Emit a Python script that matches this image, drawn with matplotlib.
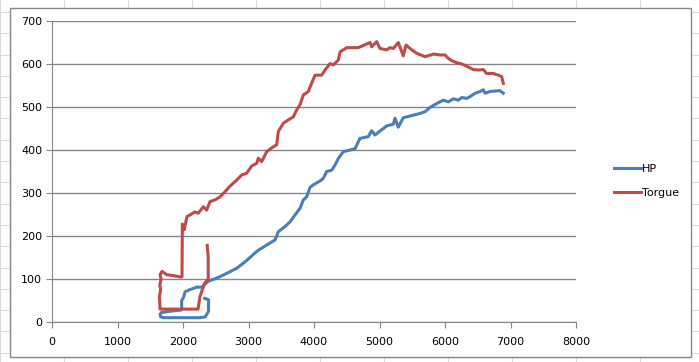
import matplotlib
matplotlib.use("Agg")
import matplotlib.pyplot as plt
from matplotlib.lines import Line2D
from matplotlib.patches import Rectangle

# HP curve (rpm, hp)
hp_rpm = [2330, 2390, 2390, 2340, 2250, 1700, 1660, 1650, 1670, 1800, 1980, 1980,
          2010, 2030, 2100, 2210, 2285, 2387, 2514, 2667, 2820, 2947, 3023, 3080,
          3150, 3278, 3405, 3455, 3557, 3634, 3710, 3786, 3837, 3888, 3939, 3990,
          4092, 4142, 4193, 4270, 4321, 4371, 4447, 4550, 4626, 4702, 4829, 4880,
          4931, 5033, 5109, 5211, 5237, 5287, 5363, 5516, 5618, 5695, 5771, 5873,
          5975, 6051, 6127, 6204, 6255, 6331, 6382, 6458, 6534, 6585, 6611, 6687,
          6840, 6890]
hp = [55, 52, 25, 12, 10, 10, 12, 18, 22, 25, 28, 50,
      58, 70, 75, 81, 81, 95, 102, 113, 125, 140, 150, 158,
      167, 179, 191, 210, 222, 233, 249, 264, 284, 291, 313, 319,
      328, 334, 350, 353, 365, 380, 396, 400, 403, 427, 431, 445,
      435, 447, 456, 460, 474, 453, 475, 481, 485, 489, 499, 508,
      516, 512, 519, 516, 522, 520, 524, 532, 536, 540, 532, 536,
      538, 532]

# Torque curve (rpm, torque)
tq_rpm = [2370, 2385, 2385, 2330, 2260, 2230, 1650, 1640, 1660, 1645, 1665, 1650,
          1680, 1750, 1850, 1950, 1985, 1990, 2020, 2060, 2107, 2183, 2234, 2310,
          2361, 2412, 2489, 2565, 2641, 2718, 2820, 2896, 2972, 3049, 3125, 3150,
          3201, 3278, 3354, 3430, 3455, 3531, 3608, 3684, 3735, 3786, 3837, 3913,
          3964, 4015, 4117, 4168, 4244, 4295, 4371, 4397, 4499, 4677, 4855, 4880,
          4957, 5008, 5109, 5160, 5211, 5287, 5363, 5405, 5491, 5567, 5695, 5822,
          5924, 6000, 6051, 6102, 6178, 6255, 6331, 6433, 6509, 6585, 6636, 6738,
          6814, 6865, 6890]
tq = [178, 150, 100, 90, 60, 30, 30, 60, 75, 85, 100, 110,
      118, 110, 108, 105, 105, 228, 215, 245, 249, 256, 253, 268,
      260, 280, 284, 291, 303, 316, 330, 342, 346, 363, 369, 381,
      373, 396, 405, 412, 443, 462, 470, 477, 493, 505, 528, 536,
      555, 574, 574, 586, 601, 598, 609, 628, 638, 638, 650, 640,
      652, 636, 633, 638, 636, 650, 619, 644, 633, 625, 617, 623,
      621, 621, 613, 608, 603, 600, 595, 587, 586, 587, 578, 578,
      574, 571, 555]

x_ticks = [0, 1000, 2000, 3000, 4000, 5000, 6000, 7000, 8000]
y_ticks = [0, 100, 200, 300, 400, 500, 600, 700]

W, H = 699, 362
fig = plt.figure(figsize=(W / 100, H / 100), dpi=100)
fig.patch.set_facecolor("white")

# faint spreadsheet cells behind the chart
for x in range(0, W, 64):
    fig.add_artist(Line2D([x / W, x / W], [0, 1], color="#dadcdd", lw=0.8, zorder=-3))
y = 161.0
while y > 0:
    fig.add_artist(Line2D([0, 1], [1 - y / H, 1 - y / H], color="#dadcdd", lw=0.8, zorder=-3))
    y -= 21.3
y = 182.3
while y < H:
    fig.add_artist(Line2D([0, 1], [1 - y / H, 1 - y / H], color="#dadcdd", lw=0.8, zorder=-3))
    y += 21.3

# chart area
fig.add_artist(Rectangle((10 / W, 1 - 357 / H), 681 / W, 349 / H, transform=fig.transFigure,
                         facecolor="white", edgecolor="#868686", lw=1, zorder=-2))

ax = fig.add_axes([52 / W, 40 / H, 524 / W, 301 / H])
ax.set_facecolor("white")
ax.plot(hp_rpm, hp, color="#4A7EBB", lw=2.2, label="HP", solid_joinstyle="round")
ax.plot(tq_rpm, tq, color="#BE4B48", lw=2.2, label="Torgue", solid_joinstyle="round")

ax.set_xlim(0, 8000)
ax.set_ylim(0, 700)
ax.set_xticks(x_ticks)
ax.set_yticks(y_ticks)
ax.grid(axis="y", color="#868686", lw=1)
ax.set_axisbelow(True)
for s in ["top", "right"]:
    ax.spines[s].set_visible(False)
for s in ["left", "bottom"]:
    ax.spines[s].set_color("#868686")
ax.tick_params(direction="out", length=4, color="#868686", labelsize=8, labelcolor="black")
ax.tick_params(axis="x", pad=7)
ax.tick_params(axis="y", pad=3)

fig.legend(loc="center left", bbox_to_anchor=(604 / W, 1 - 181 / H), frameon=False,
           fontsize=8, handlelength=2.4, handletextpad=0.15, labelspacing=1.3)

fig.savefig("out.png", dpi=100)
